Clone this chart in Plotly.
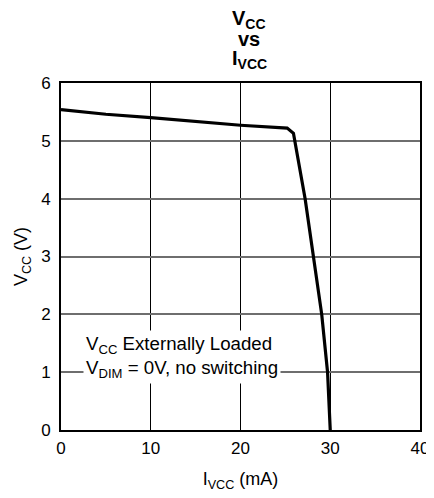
import plotly.graph_objects as go

# Data
i_vcc_ma = [0, 5, 10, 15, 20, 25.2, 25.9, 27.2, 28.1, 29.05, 29.7, 29.85, 30.0]
v_cc_v = [5.54, 5.46, 5.40, 5.33, 5.27, 5.22, 5.13, 4.0, 3.0, 2.0, 1.0, 0.5, 0.0]

x_ticks = [0, 10, 20, 30, 40]
y_ticks = [0, 1, 2, 3, 4, 5, 6]

title_lines = ["V<sub>CC</sub>", "vs", "I<sub>VCC</sub>"]

FONT = "Liberation Sans, Arial, sans-serif"

# The page body has an 8px default margin; size the figure to fit the window.
OFF = 8
W, H = 434 - OFF, 498 - OFF
ML, MT, MR, MB = 61 - OFF, 83 - OFF, 14, 68

fig = go.Figure()
fig.add_trace(go.Scatter(x=i_vcc_ma, y=v_cc_v, mode="lines",
                         line=dict(color="black", width=3.2), showlegend=False,
                         hoverinfo="skip"))

plot_h = H - MT - MB
plot_w = W - ML - MR

def py(p):  # window pixel y -> paper y
    return (430 - p) / plot_h

def px(p):  # window pixel x -> paper x
    return (p - 61) / plot_w

title_ann = []
for txt, ypix in zip(title_lines, [19.5, 39, 60]):
    title_ann.append(dict(text="<b>" + txt + "</b>", xref="paper", yref="paper",
                          x=px(249), y=py(ypix), xanchor="center",
                          yanchor="middle", showarrow=False,
                          font=dict(size=20, family=FONT, color="black")))

fig.update_layout(
    width=W, height=H,
    margin=dict(l=ML, r=MR, t=MT, b=MB),
    paper_bgcolor="white", plot_bgcolor="white",
    font=dict(family=FONT, size=17, color="black"),
    xaxis=dict(range=[0, 40], tickvals=x_ticks, ticktext=[str(v) for v in x_ticks],
               showgrid=True, gridcolor="black", gridwidth=1,
               showline=True, mirror=True, linecolor="black", linewidth=2,
               ticks="", zeroline=False, ticklabelstandoff=2, automargin=False,
               tickfont=dict(size=17),
               title=dict(text="I<sub>VCC</sub> (mA)", standoff=15, font=dict(size=18))),
    yaxis=dict(range=[0, 6], tickvals=y_ticks, ticktext=[str(v) for v in y_ticks],
               showgrid=True, gridcolor="#6e6e6e", gridwidth=1.5,
               showline=True, mirror=True, linecolor="black", linewidth=2,
               ticks="", zeroline=False, ticklabelstandoff=5, automargin=False,
               tickfont=dict(size=17),
               title=dict(text="V<sub>CC</sub> (V)", standoff=9, font=dict(size=18))),
    annotations=title_ann + [dict(
        text="V<sub>CC</sub> Externally Loaded<br>V<sub>DIM</sub> = 0V, no switching",
        xref="x", yref="y", x=2.5, y=1.27, xanchor="left", yanchor="middle",
        showarrow=False, align="left", bgcolor="white", borderpad=2,
        font=dict(size=18.7, family=FONT))],
)

fig.write_html("out.html")
